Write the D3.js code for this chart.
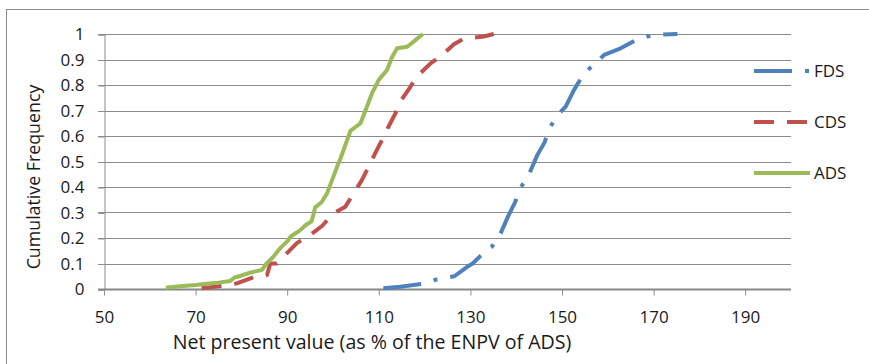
<!DOCTYPE html>
<html>
<head>
<meta charset="utf-8">
<script src="https://cdn.jsdelivr.net/npm/d3@7"></script>
<style>
    body { margin: 0; background: #fff; }
    text { font-family: "Open Sans", "Noto Sans", sans-serif; fill: #1a1a1a; }
</style>
</head>
<body>
<script>
// cumulative frequency curves, x = NPV as % of ENPV of ADS
var adsX = [63.5, 66, 70, 73, 75, 77.5, 78.5, 79.7, 81.9, 84.5, 85.5, 87, 88, 88.8, 90.2, 90.7, 92.8, 94, 95.3, 95.7, 96.1, 97.5, 98.7, 99.8, 100.9, 101.6, 102.3, 103, 103.8, 106, 107.4, 108.5, 110, 111.8, 112.9, 114, 116.2, 117.6, 119.6];
var adsY = [0.005, 0.01, 0.016, 0.022, 0.025, 0.031, 0.045, 0.051, 0.064, 0.075, 0.1, 0.127, 0.15, 0.166, 0.19, 0.205, 0.23, 0.25, 0.265, 0.29, 0.32, 0.34, 0.375, 0.427, 0.48, 0.51, 0.545, 0.58, 0.62, 0.65, 0.715, 0.767, 0.82, 0.859, 0.91, 0.944, 0.95, 0.97, 1.0];

var cdsX = [71.3, 75.7, 79, 82.6, 85.6, 86.3, 87.7, 89.9, 92.1, 95, 97.6, 100.1, 102.7, 104.5, 106.3, 107.8, 109.2, 110.7, 112.1, 114, 114.7, 116.9, 118.3, 121.3, 123.4, 126.4, 128.5, 132.9, 135.1];
var cdsY = [0.003, 0.012, 0.022, 0.046, 0.055, 0.1, 0.1, 0.14, 0.18, 0.212, 0.247, 0.297, 0.323, 0.375, 0.427, 0.48, 0.532, 0.584, 0.636, 0.702, 0.735, 0.793, 0.833, 0.885, 0.911, 0.96, 0.981, 0.99, 1.0];

var fdsX = [111, 114.7, 119.6, 122.7, 126.5, 129.3, 130.5, 132.2, 134.7, 136.6, 138.2, 139.8, 140.9, 142.9, 144.6, 146.2, 147.3, 149.4, 150.8, 152.6, 154.8, 157.3, 159.2, 162.8, 166.4, 170, 175.2];
var fdsY = [0.003, 0.009, 0.02, 0.038, 0.05, 0.087, 0.1, 0.13, 0.166, 0.218, 0.284, 0.342, 0.395, 0.454, 0.525, 0.575, 0.633, 0.689, 0.715, 0.78, 0.846, 0.885, 0.918, 0.944, 0.979, 0.996, 1.0];

var seriesNames = ["FDS", "CDS", "ADS"];
var xTicks = [50, 70, 90, 110, 130, 150, 170, 190];
var yTicks = [0, 0.1, 0.2, 0.3, 0.4, 0.5, 0.6, 0.7, 0.8, 0.9, 1];

var width = 869, height = 364;
var svg = d3.select("body").append("svg")
    .attr("width", width)
    .attr("height", height);

// outer chart frame (runs off the right/bottom edge like the original)
svg.append("rect")
    .attr("x", 6.5).attr("y", 9.5)
    .attr("width", 900).attr("height", 400)
    .attr("fill", "none")
    .attr("stroke", "#8a8a8a");

var x = d3.scaleLinear().domain([50, 200]).range([104, 791]);
var y = d3.scaleLinear().domain([0, 1]).range([289, 34]);

// gridlines
svg.append("g")
    .selectAll("line")
    .data(yTicks.slice(1))
    .join("line")
    .attr("x1", 98).attr("x2", 791)
    .attr("y1", d => Math.round(y(d)) + 0.5)
    .attr("y2", d => Math.round(y(d)) + 0.5)
    .attr("stroke", "#8c8c8c");

var yAxis = svg.append("g")
    .attr("transform", "translate(104.5,0.5)")
    .call(d3.axisLeft(y).tickValues(yTicks).tickSize(6).tickPadding(14).tickFormat(d3.format("")));
yAxis.select(".domain").attr("stroke", "#8c8c8c");
yAxis.selectAll(".tick line").attr("stroke", "#8c8c8c");
yAxis.selectAll("text").style("font-size", "17px").attr("fill", "#1a1a1a");

var xAxis = svg.append("g")
    .attr("transform", "translate(0,289.5)")
    .call(d3.axisBottom(x).tickValues(xTicks).tickSize(6).tickPadding(15));
xAxis.select(".domain").attr("stroke", "#888").attr("stroke-width", 2).attr("d", "M98,0H791");
xAxis.selectAll(".tick line").attr("stroke", "#8c8c8c");
xAxis.selectAll("text").style("font-size", "17px").attr("fill", "#1a1a1a");

svg.append("text")
    .attr("x", 372).attr("y", 349)
    .attr("text-anchor", "middle")
    .style("font-size", "19.6px")
    .text("Net present value (as % of the ENPV of ADS)");

svg.append("text")
    .attr("transform", "translate(40,177) rotate(-90)")
    .attr("text-anchor", "middle")
    .style("font-size", "17.8px")
    .text("Cumulative Frequency");

var series = [
    { name: "FDS", xs: fdsX, ys: fdsY, color: "#4f81bd", dash: "38,13,4,13" },
    { name: "CDS", xs: cdsX, ys: cdsY, color: "#c0504d", dash: "20,13" },
    { name: "ADS", xs: adsX, ys: adsY, color: "#9bbb59", dash: null }
];

var line = d3.line()
    .x(d => x(d[0]))
    .y(d => y(d[1]));

svg.append("g")
    .selectAll("path")
    .data(series)
    .join("path")
    .attr("d", s => line(s.xs.map((v, i) => [v, s.ys[i]])))
    .attr("fill", "none")
    .attr("stroke", s => s.color)
    .attr("stroke-width", 4)
    .attr("stroke-linejoin", "round")
    .attr("stroke-dasharray", s => s.dash);

// legend
var legend = svg.append("g")
    .selectAll("g")
    .data(series)
    .join("g")
    .attr("transform", (s, i) => "translate(754," + (71 + i * 51) + ")");

legend.append("line")
    .attr("x1", 0).attr("x2", 56)
    .attr("stroke", s => s.color)
    .attr("stroke-width", 4)
    .attr("stroke-dasharray", s => s.dash ? s.dash : null);

legend.append("text")
    .attr("x", 60).attr("dy", "0.35em")
    .style("font-size", "17px")
    .text(s => s.name);
</script>
</body>
</html>
